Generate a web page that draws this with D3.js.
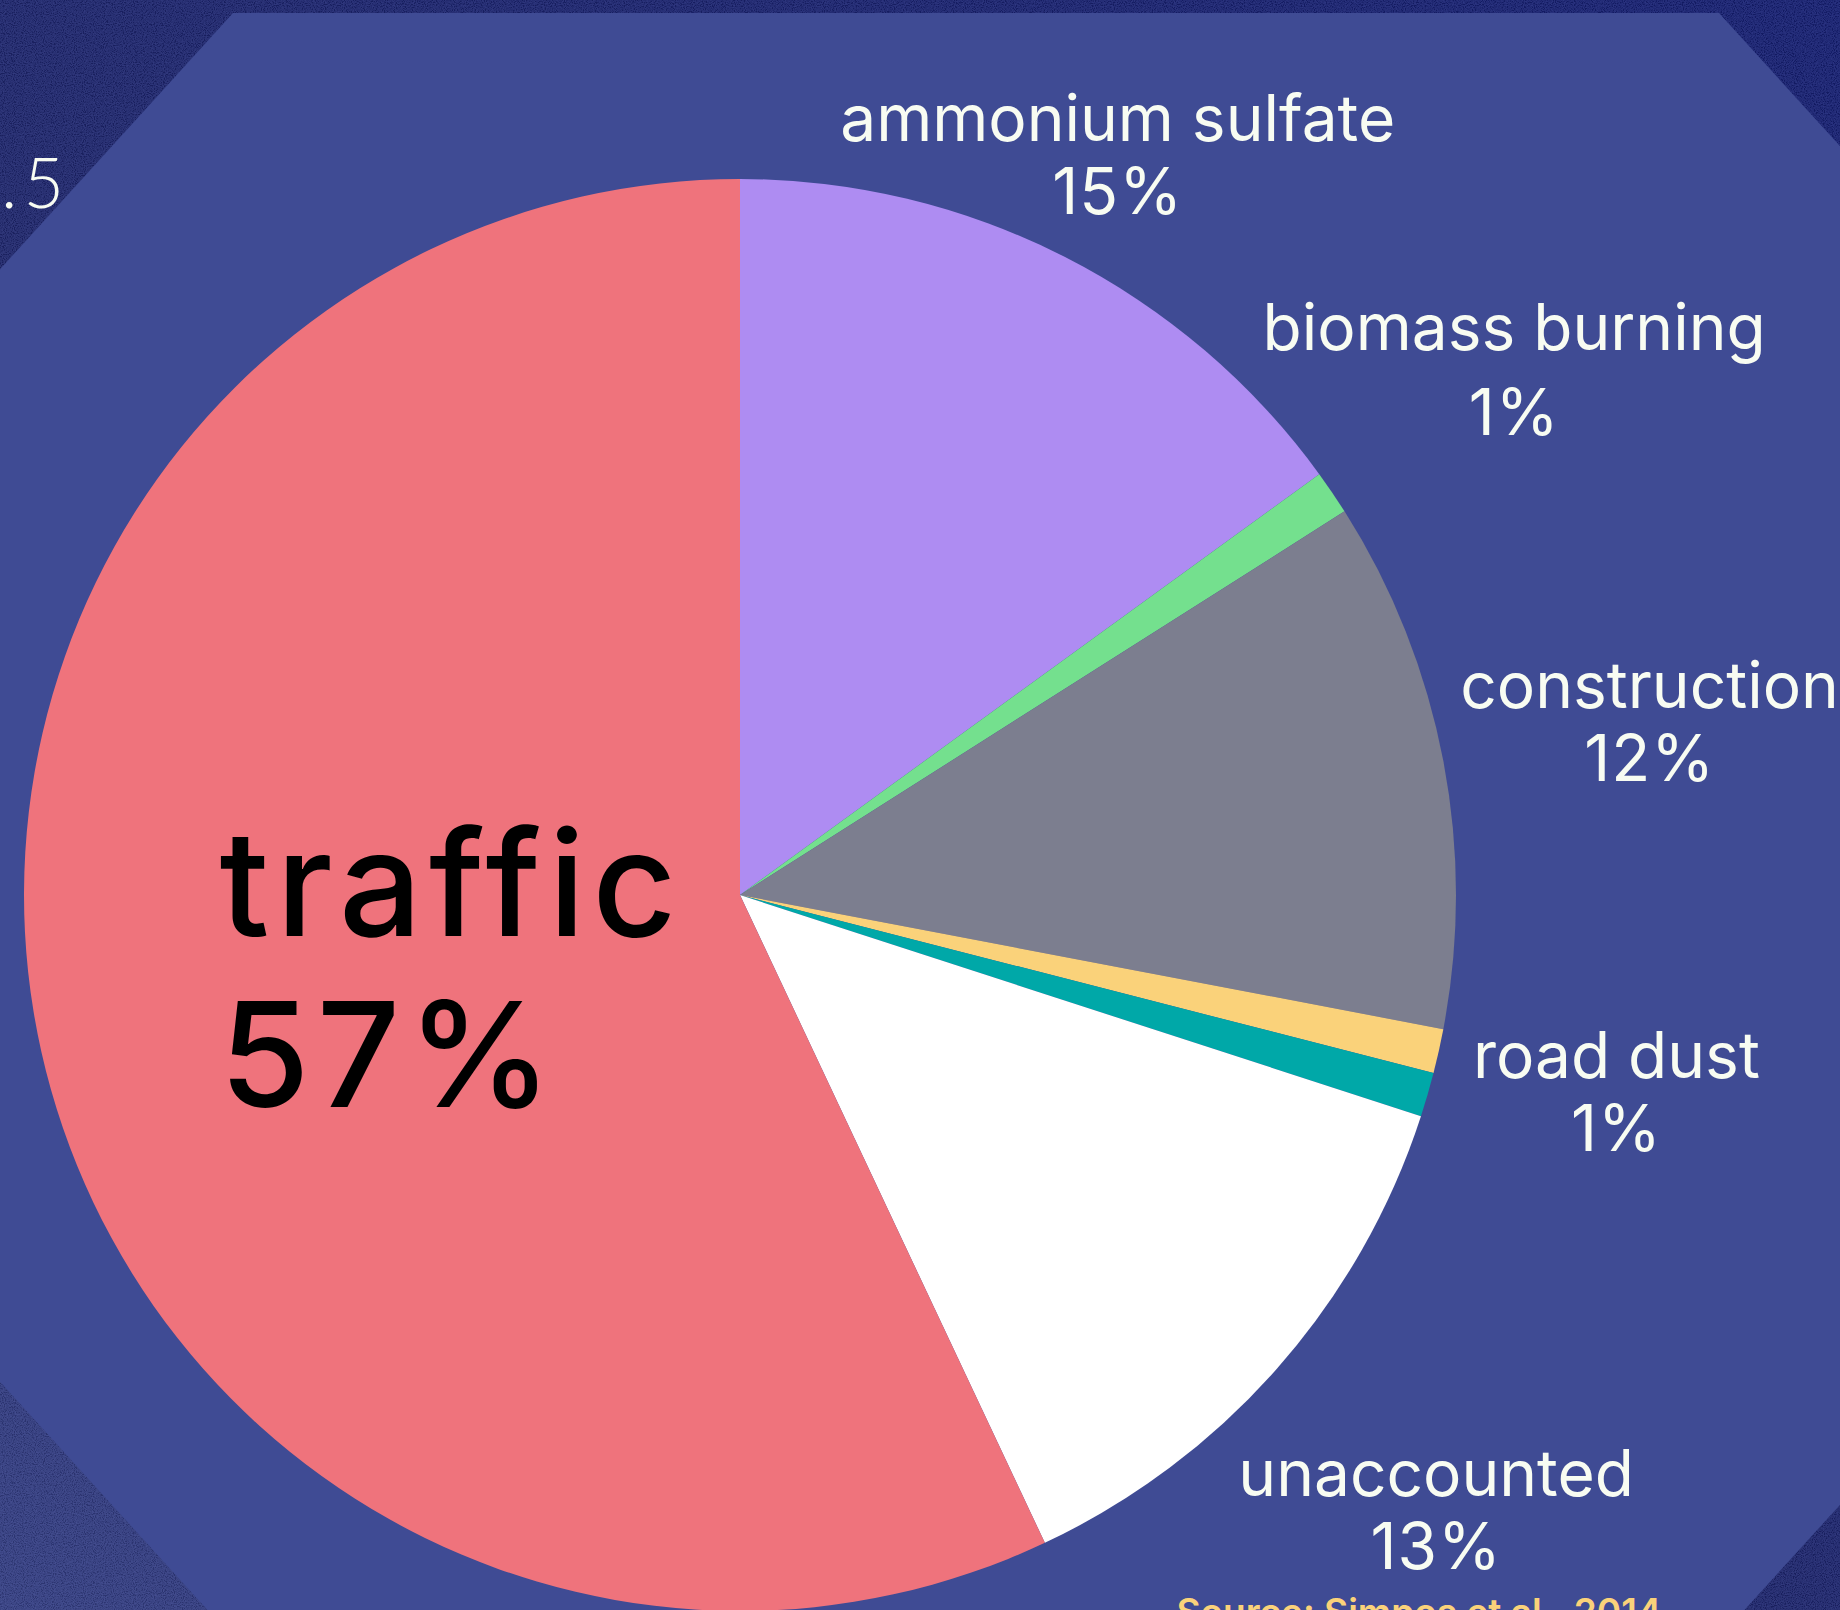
<!DOCTYPE html>
<html>
<head>
<meta charset="utf-8">
<script src="https://cdn.jsdelivr.net/npm/d3@7"></script>
<style>
  html, body { margin: 0; padding: 0; background: #1f2775; }
  svg { display: block; }
</style>
</head>
<body>
<svg></svg>
<script>
// Data
var categories = ["ammonium sulfate", "biomass burning", "construction", "road dust", "", "unaccounted", "traffic"];
var values = [15, 1, 12, 1, 1, 13, 57];
var colors = ["#ae8cf2", "#74e08e", "#7c7e8f", "#fad27a", "#00a8a8", "#ffffff", "#ef737c"];
var sourceText = "Source: Simpos et al., 2014";
var titleText = "PM2.5";

// Layout
var width = 1840;
var height = 1610;
var cx = 740, cy = 895;
var radius = 716;
// how far past the pie edge each outside label sits (px), and gap between its two lines
var labelDist = [116, 220, 210, 182, 0, 212, 0];
var labelGap = [73, 85, 73, 73, 73, 73, 171];
var insideIndex = 6; // traffic label goes inside the slice

var svg = d3.select("svg").attr("width", width).attr("height", height);
var defs = svg.append("defs");

// background gradient + grain
var bg = defs.append("linearGradient")
    .attr("id", "bg-grad")
    .attr("x1", "0").attr("y1", "1").attr("x2", "1").attr("y2", "0");
bg.append("stop").attr("offset", "0%").attr("stop-color", "#3a4590");
bg.append("stop").attr("offset", "40%").attr("stop-color", "#222a76");
bg.append("stop").attr("offset", "100%").attr("stop-color", "#17217c");

var grain = defs.append("filter").attr("id", "grain")
    .attr("x", 0).attr("y", 0).attr("width", "100%").attr("height", "100%");
grain.append("feTurbulence")
    .attr("type", "fractalNoise")
    .attr("baseFrequency", 0.9)
    .attr("numOctaves", 2)
    .attr("seed", 3)
    .attr("result", "noise");
grain.append("feColorMatrix")
    .attr("in", "noise")
    .attr("type", "matrix")
    .attr("values", "0 0 0 0 0.45  0 0 0 0 0.5  0 0 0 0 0.8  0 0 0 0.9 -0.3")
    .attr("result", "tint");
grain.append("feComposite")
    .attr("in", "tint").attr("in2", "SourceGraphic").attr("operator", "atop");

svg.append("rect")
    .attr("width", width).attr("height", height)
    .attr("fill", "url(#bg-grad)");
svg.append("rect")
    .attr("width", width).attr("height", height)
    .attr("fill", "#000")
    .attr("opacity", 0.2)
    .style("filter", "url(#grain)");

// title fragment peeking in on the left
svg.append("text")
    .attr("x", 70).attr("y", 208)
    .attr("text-anchor", "end")
    .attr("font-family", "Lato, 'Noto Sans', sans-serif")
    .attr("font-weight", 300)
    .attr("font-size", 70)
    .attr("letter-spacing", 6)
    .attr("fill", "#f8fcf2")
    .text(titleText);

// octagon panel
var oct = { cx: 976, cy: 825.5, half: 743, cut: 400, slope: 1.1, halfH: 812.5 };
var octPts = [
    [oct.cx - oct.half, oct.cy - oct.halfH],
    [oct.cx + oct.half, oct.cy - oct.halfH],
    [oct.cx + oct.half + oct.cut, oct.cy - oct.halfH + oct.cut * oct.slope],
    [oct.cx + oct.half + oct.cut, oct.cy + oct.halfH - oct.cut * oct.slope],
    [oct.cx + oct.half, oct.cy + oct.halfH],
    [oct.cx - oct.half, oct.cy + oct.halfH],
    [oct.cx - oct.half - oct.cut, oct.cy + oct.halfH - oct.cut * oct.slope],
    [oct.cx - oct.half - oct.cut, oct.cy - oct.halfH + oct.cut * oct.slope]
];
svg.append("polygon")
    .attr("points", octPts.map(p => p.join(",")).join(" "))
    .attr("fill", "#3f4b94");

// pie
var pie = d3.pie().sort(null).value(d => d);
var arcs = pie(values);
var arc = d3.arc().innerRadius(0).outerRadius(radius);

var g = svg.append("g").attr("transform", "translate(" + cx + "," + cy + ")");

g.selectAll("path.slice")
    .data(arcs)
    .enter().append("path")
    .attr("class", "slice")
    .attr("d", arc)
    .attr("fill", (d, i) => colors[i]);

// labels
arcs.forEach((d, i) => {
    if (!categories[i]) return;
    var mid = (d.startAngle + d.endAngle) / 2;
    var inside = i === insideIndex;

    var lab = g.append("g");
    var fs = inside ? 146 : 64;
    var gap = labelGap[i];
    lab.append("text")
        .attr("x", 0).attr("y", 0)
        .attr("text-anchor", inside ? "start" : "middle")
        .attr("font-family", "Inter, Roboto, sans-serif")
        .attr("font-size", fs)
        .attr("font-weight", inside ? 500 : 400)
        .attr("letter-spacing", inside ? 7 : 0)
        .attr("fill", inside ? "#000" : "#f8fcf2")
        .text(categories[i]);
    lab.append("text")
        .attr("x", 0).attr("y", gap)
        .attr("text-anchor", inside ? "start" : "middle")
        .attr("font-family", "Inter, Roboto, sans-serif")
        .attr("font-size", fs)
        .attr("font-weight", inside ? 500 : 400)
        .attr("letter-spacing", inside ? 7 : 1)
        .attr("fill", inside ? "#000" : "#f8fcf2")
        .text(values[i] + "%");

    var box = lab.node().getBBox();
    var capTop = -fs * 0.73;
    var boxCy = (capTop + gap) / 2;
    var dist = inside ? radius * 0.42 : radius + labelDist[i];
    var px = dist * Math.sin(mid);
    var py = -dist * Math.cos(mid);
    var ox = inside ? px - box.width / 2 - box.x + 5 : px;
    var oy = inside ? py - boxCy + 8 : py - boxCy;
    lab.attr("transform", "translate(" + ox + "," + oy + ")");
});

// source
svg.append("text")
    .attr("x", 1419).attr("y", 1625)
    .attr("text-anchor", "middle")
    .attr("font-family", "Inter, Roboto, sans-serif")
    .attr("font-weight", 600)
    .attr("font-size", 37)
    .attr("fill", "#fad27a")
    .text(sourceText);
</script>
</body>
</html>
